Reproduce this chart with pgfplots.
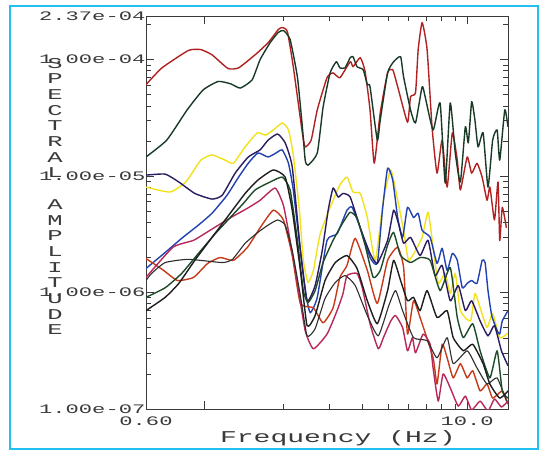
\documentclass[border=0pt]{standalone}
\usepackage{fontspec}
\newfontfamily\plotfont[FakeStretch=1.7]{Liberation Mono}
\usepackage{pgfplots}
\pgfplotsset{compat=1.18}
\definecolor{frameblue}{HTML}{22C0F0}
\definecolor{axisgray}{HTML}{3A3A3A}
\definecolor{topred}{HTML}{B02222}
\definecolor{topgreen}{HTML}{1A3A28}
\definecolor{yel}{HTML}{F2E21E}
\definecolor{navy}{HTML}{2A1C5E}
\definecolor{blu}{HTML}{2242B0}
\definecolor{crim}{HTML}{B8285A}
\definecolor{ored}{HTML}{C63A1A}
\definecolor{blk}{HTML}{1E1E1E}
\definecolor{dgreen}{HTML}{1E4A2A}
\definecolor{blk2}{HTML}{2E2E2E}

\begin{document}
\begin{tikzpicture}
\useasboundingbox (0pt,0pt) rectangle (540pt,453pt);
\fill[white] (0pt,0pt) rectangle (540pt,453pt);
\begin{axis}[
  at={(146pt,44pt)}, anchor=south west,
  width=362pt, height=393pt, scale only axis,
  xmode=log, ymode=log,
  xmin=0.6, xmax=14.3, ymin=1e-7, ymax=2.37e-4,
  xtick={0.6,1,10}, xticklabels={0.60,,10.0},
  minor xtick={2,3,4,5,6,7,8,9},
  ytick={1e-7,1e-6,1e-5,1e-4,2.37e-4},
  yticklabels={1.00e-07,1.00e-06,1.00e-05,1.00e-04,2.37e-04},
  minor ytick={2e-7,3e-7,4e-7,5e-7,6e-7,7e-7,8e-7,9e-7,
    2e-6,3e-6,4e-6,5e-6,6e-6,7e-6,8e-6,9e-6,
    2e-5,3e-5,4e-5,5e-5,6e-5,7e-5,8e-5,9e-5,2e-4},
  major tick length=8pt, minor tick length=5pt,
  axis line style={draw=axisgray, line width=1pt},
  tick style={axisgray, line width=0.9pt},
  ticklabel style={font=\plotfont\fontsize{13}{13}\selectfont, text=axisgray},
  yticklabel style={inner xsep=0.5pt},
  xticklabel style={yshift=-4pt},
  xlabel={Frequency (Hz)},
  xlabel style={at={(axis description cs:0.53,0)}, anchor=center, yshift=-29pt,
    font=\plotfont\fontsize{16.5}{16.5}\selectfont, text=axisgray},
  every axis plot/.append style={line width=1.4pt, line join=round, smooth, tension=0.3},
]
% yellow
\addplot[yel] coordinates {(0.60,8.05e-6)(0.74,7.3e-6)(0.85,8.9e-6)(0.97,1.37e-5)(1.07,1.52e-5)(1.20,1.37e-5)(1.29,1.29e-5)(1.43,1.78e-5)(1.59,2.35e-5)(1.71,2.25e-5)(1.83,2.49e-5)(1.98,2.86e-5)(2.09,2.49e-5)(2.18,1.52e-5)(2.30,5.1e-6)(2.38,1.89e-6)(2.48,1.22e-6)(2.60,1.55e-6)(2.76,3.2e-6)(3.09,6.2e-6)(3.28,8.4e-6)(3.49,9.8e-6)(3.68,7.3e-6)(3.92,7.1e-6)(4.17,4.4e-6)(4.47,1.89e-6)(4.80,6.2e-6)(5.12,1.13e-5)(5.44,6.2e-6)(5.73,3.42e-6)(5.98,1.89e-6)(6.36,2.30e-6)(6.74,2.98e-6)(7.10,4.9e-6)(7.42,2.45e-6)(7.76,1.20e-6)(8.25,1.46e-6)(8.62,9.8e-7)(9.01,1.46e-6)(9.42,7.0e-7)(10.3,5.7e-7)(10.7,9.8e-7)(11.2,7.4e-7)(11.9,5.0e-7)(12.5,6.6e-7)(13.3,4.1e-7)(14.3,4.5e-7)};
% blue
\addplot[blu] coordinates {(0.60,1.61e-6)(0.71,2.21e-6)(0.82,2.92e-6)(0.95,3.8e-6)(1.07,4.8e-6)(1.22,6.85e-6)(1.35,9.8e-6)(1.47,1.29e-5)(1.60,1.58e-5)(1.75,1.46e-5)(1.90,1.61e-5)(1.98,1.68e-5)(2.09,1.29e-5)(2.18,7.6e-6)(2.32,2.30e-6)(2.44,9.4e-7)(2.53,6.7e-7)(2.69,9.1e-7)(2.93,2.81e-6)(3.20,3.2e-6)(3.49,5.1e-6)(3.65,5.4e-6)(3.92,3.6e-6)(4.27,2.0e-6)(4.55,1.78e-6)(4.76,5.1e-6)(4.98,1.17e-5)(5.21,9.25e-6)(5.44,4.4e-6)(5.68,2.98e-6)(5.93,5.4e-6)(6.25,4.4e-6)(6.51,4.8e-6)(6.74,3.42e-6)(7.23,2.98e-6)(7.68,1.78e-6)(8.03,2.40e-6)(8.39,1.55e-6)(8.78,2.17e-6)(9.17,1.89e-6)(9.58,1.10e-6)(10.0,1.20e-6)(10.4,1.27e-6)(10.9,1.20e-6)(11.4,1.89e-6)(11.7,1.81e-6)(12.0,1.04e-6)(12.4,6.35e-7)(13.0,4.7e-7)(13.3,4.4e-7)(13.6,5.7e-7)(14.3,7.0e-7)};
% navy
\addplot[navy] coordinates {(0.60,1.02e-5)(0.71,1.04e-5)(0.80,8.9e-6)(0.92,7.1e-6)(1.07,6.35e-6)(1.17,6.85e-6)(1.31,1.06e-5)(1.47,1.46e-5)(1.63,1.68e-5)(1.75,2.04e-5)(1.90,2.30e-5)(2.03,1.93e-5)(2.16,1.20e-5)(2.32,2.30e-6)(2.46,8.5e-7)(2.64,1.15e-6)(2.81,2.30e-6)(2.96,5.1e-6)(3.09,7.9e-6)(3.23,6.6e-6)(3.37,7.1e-6)(3.59,6.6e-6)(3.92,3.6e-6)(4.27,2.17e-6)(4.55,1.78e-6)(4.98,2.81e-6)(5.25,5.1e-6)(5.48,3.9e-6)(5.73,2.65e-6)(6.09,2.98e-6)(6.62,2.08e-6)(7.10,2.81e-6)(7.55,1.40e-6)(8.03,1.71e-6)(8.62,8.5e-7)(9.25,1.15e-6)(9.84,7.0e-7)(10.4,8.5e-7)(11.2,5.7e-7)(12.0,4.25e-7)(12.7,5.2e-7)(13.5,3.16e-7)(14.3,2.35e-7)};
% orange-red
\addplot[ored] coordinates {(0.60,1.96e-6)(0.70,1.55e-6)(0.79,1.27e-6)(0.91,1.35e-6)(1.03,1.78e-6)(1.15,2.0e-6)(1.29,1.89e-6)(1.46,2.45e-6)(1.63,3.6e-6)(1.83,5.1e-6)(2.00,4.2e-6)(2.16,2.08e-6)(2.32,8.05e-7)(2.60,7.4e-7)(2.83,5.5e-7)(3.09,7.4e-7)(3.28,1.35e-6)(3.49,1.71e-6)(3.75,2.92e-6)(4.17,1.55e-6)(4.55,8.05e-7)(4.98,1.89e-6)(5.44,2.45e-6)(5.73,1.64e-6)(5.93,4.4e-7)(6.25,8.5e-7)(6.62,6.1e-7)(7.42,2.75e-7)(7.68,1.64e-7)(8.03,3.6e-7)(8.39,2.75e-7)(8.85,1.85e-7)(9.42,2.45e-7)(10.0,1.85e-7)(10.5,2.13e-7)(11.2,1.43e-7)(11.9,1.64e-7)(12.5,1.24e-7)(13.6,1.43e-7)(14.3,1.10e-7)};
% crimson
\addplot[crim] coordinates {(0.60,1.35e-6)(0.76,2.45e-6)(0.91,2.81e-6)(1.05,3.42e-6)(1.26,4.4e-6)(1.46,5.3e-6)(1.63,6.2e-6)(1.86,7.9e-6)(2.00,5.6e-6)(2.12,2.81e-6)(2.26,1.20e-6)(2.42,4.7e-7)(2.60,3.29e-7)(2.93,4.4e-7)(3.20,7.0e-7)(3.37,9.8e-7)(3.49,1.40e-6)(3.81,1.46e-6)(3.99,1.10e-6)(4.27,5.4e-7)(4.59,3.29e-7)(4.80,4.1e-7)(5.12,5.7e-7)(5.34,6.35e-7)(5.68,5.0e-7)(5.93,3.16e-7)(6.19,4.1e-7)(6.36,3.04e-7)(6.80,4.4e-7)(7.23,3.6e-7)(7.42,2.25e-7)(7.76,1.17e-7)(8.10,2.0e-7)(8.62,1.52e-7)(9.25,1.06e-7)(9.84,1.29e-7)(10.4,9.8e-8)(11.2,1.17e-7)(12.0,9.6e-8)(12.7,1.22e-7)(13.5,1.04e-7)(14.3,1.17e-7)};
% black thin
\addplot[blk2, line width=1.1pt] coordinates {(0.60,1.27e-6)(0.63,1.46e-6)(0.71,1.81e-6)(0.87,1.93e-6)(1.17,1.81e-6)(1.28,1.93e-6)(1.43,2.65e-6)(1.60,3.29e-6)(1.75,3.8e-6)(1.90,4.2e-6)(2.03,3.8e-6)(2.16,2.30e-6)(2.32,9.4e-7)(2.46,4.25e-7)(2.64,4.9e-7)(2.88,8.9e-7)(3.15,1.22e-6)(3.43,1.40e-6)(3.75,1.15e-6)(4.17,6.35e-7)(4.59,4.25e-7)(5.03,7.7e-7)(5.34,1.04e-6)(5.68,7.0e-7)(6.25,4.1e-7)(7.04,3.86e-7)(7.68,2.75e-7)(8.39,4.1e-7)(8.85,2.45e-7)(10.0,3.16e-7)(10.9,2.25e-7)(11.9,1.64e-7)(13.0,1.85e-7)(14.1,1.17e-7)};
% dark green (lower)
\addplot[dgreen] coordinates {(0.60,9.1e-7)(0.71,1.10e-6)(0.82,1.46e-6)(0.95,2.17e-6)(1.10,3.2e-6)(1.23,4.2e-6)(1.41,5.85e-6)(1.56,7.6e-6)(1.78,8.9e-6)(1.98,9.8e-6)(2.12,7.6e-6)(2.26,2.81e-6)(2.38,1.04e-6)(2.48,8.2e-7)(2.64,1.04e-6)(2.83,1.81e-6)(3.09,2.81e-6)(3.37,4.0e-6)(3.59,4.9e-6)(3.81,4.35e-6)(4.09,2.55e-6)(4.39,1.35e-6)(4.67,1.55e-6)(4.98,2.55e-6)(5.25,3.29e-6)(5.58,2.08e-6)(6.09,1.81e-6)(6.62,2.0e-6)(7.23,1.89e-6)(7.89,1.04e-6)(8.62,1.64e-6)(9.17,6.1e-7)(9.67,4.1e-7)(10.5,5.4e-7)(11.2,3.16e-7)(12.2,1.85e-7)(13.0,3.16e-7)(13.6,1.43e-7)(14.3,1.24e-7)};
% black
\addplot[blk] coordinates {(0.60,7.0e-7)(0.71,9.1e-7)(0.80,1.20e-6)(0.92,1.89e-6)(1.07,2.98e-6)(1.20,4.2e-6)(1.43,7.1e-6)(1.60,9.25e-6)(1.83,1.13e-5)(2.03,9.8e-6)(2.16,5.1e-6)(2.32,1.55e-6)(2.46,5.2e-7)(2.64,6.35e-7)(2.88,1.27e-6)(3.15,1.81e-6)(3.49,2.08e-6)(3.81,1.61e-6)(4.17,8.5e-7)(4.55,5.4e-7)(4.98,1.04e-6)(5.25,1.89e-6)(5.58,1.27e-6)(5.93,8.5e-7)(6.25,9.1e-7)(6.62,7.0e-7)(7.04,1.04e-6)(7.68,6.1e-7)(8.39,7.0e-7)(8.85,4.1e-7)(9.67,3.16e-7)(10.5,3.6e-7)(11.5,2.45e-7)(12.2,1.64e-7)(13.3,1.24e-7)(14.3,1.43e-7)};
% top red
\addplot[topred] coordinates {(0.60,6.1e-5)(0.69,8.5e-5)(0.87,1.2e-4)(0.97,1.22e-4)(1.07,1.10e-4)(1.23,8.4e-5)(1.35,8.5e-5)(1.56,1.10e-4)(1.75,1.40e-4)(1.91,1.81e-4)(1.98,1.89e-4)(2.07,1.74e-4)(2.18,8.7e-5)(2.36,2.35e-5)(2.42,1.78e-5)(2.55,2.04e-5)(2.69,3.71e-5)(2.93,7.0e-5)(3.09,7.7e-5)(3.28,7.0e-5)(3.59,9.6e-5)(3.68,8.7e-5)(3.92,1.04e-4)(4.09,7.9e-5)(4.27,3.7e-5)(4.43,1.29e-5)(4.67,3.5e-5)(4.98,7.7e-5)(5.21,8.2e-5)(5.48,5.5e-5)(5.93,2.9e-5)(6.09,4.8e-5)(6.36,5.2e-5)(6.51,1.22e-4)(6.74,2.08e-4)(7.04,1.22e-4)(7.35,2.65e-5)(7.68,1.06e-5)(8.03,2.04e-5)(8.39,8.05e-6)(8.78,2.35e-5)(9.17,1.37e-5)(9.42,7.6e-6)(10.0,1.46e-5)(10.4,1.06e-5)(10.9,1.29e-5)(11.4,9.8e-6)(11.9,6.2e-6)(12.2,8.05e-6)(12.7,4.2e-6)(13.1,8.9e-6)(13.3,2.8e-6)(13.6,5.4e-6)(14.1,3.6e-6)};
% top dark green
\addplot[topgreen] coordinates {(0.60,1.46e-5)(0.72,2.04e-5)(0.86,3.7e-5)(0.99,5.5e-5)(1.13,6.5e-5)(1.26,6.2e-5)(1.37,5.7e-5)(1.52,6.7e-5)(1.63,1.0e-4)(1.78,1.40e-4)(1.91,1.71e-4)(2.00,1.78e-4)(2.12,1.49e-4)(2.26,7.1e-5)(2.36,2.65e-5)(2.42,1.37e-5)(2.48,1.24e-5)(2.69,1.58e-5)(2.83,3.9e-5)(3.01,7.7e-5)(3.18,9.6e-5)(3.28,8.5e-5)(3.43,8.5e-5)(3.59,1.04e-4)(3.68,1.06e-4)(3.81,8.7e-5)(4.02,8.2e-5)(4.17,6.1e-5)(4.27,5.85e-5)(4.55,2.04e-5)(4.67,3.04e-5)(4.98,7.7e-5)(5.25,9.6e-5)(5.58,1.06e-4)(5.73,7.1e-5)(6.09,3.7e-5)(6.36,2.86e-5)(6.74,5.85e-5)(6.92,4.8e-5)(7.42,2.49e-5)(7.89,4.25e-5)(8.25,8.7e-6)(8.62,4.25e-5)(9.01,1.58e-5)(9.42,8.9e-6)(9.84,2.65e-5)(10.1,1.93e-5)(10.4,4.35e-5)(10.7,3.04e-5)(11.0,1.78e-5)(11.5,2.35e-5)(12.0,8.05e-6)(12.5,2.04e-5)(13.0,2.49e-5)(13.3,1.37e-5)(13.9,3.7e-5)(14.3,2.65e-5)};
\end{axis}
\node[align=center, font=\plotfont\fontsize{15}{15.7}\selectfont, text=axisgray]
  at (55pt,256.5pt)
  {S\\P\\E\\C\\T\\R\\A\\L\\[15.7pt]A\\M\\P\\L\\I\\T\\U\\D\\E};
\draw[frameblue, line width=2pt] (10pt,4pt) rectangle (538pt,447pt);
\end{tikzpicture}
\end{document}
